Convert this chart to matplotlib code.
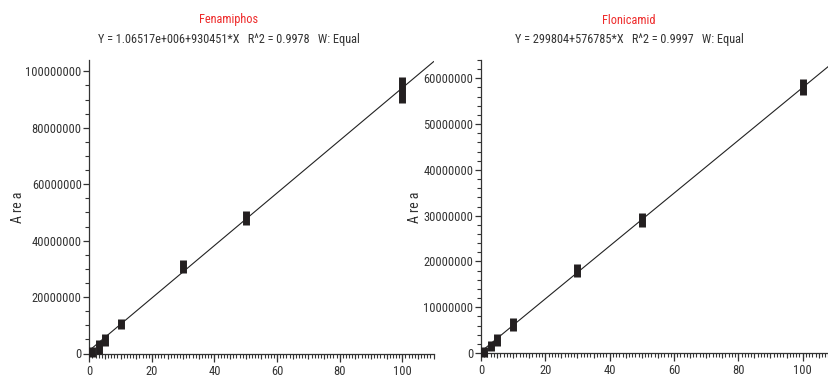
import matplotlib
matplotlib.use("Agg")
import matplotlib.pyplot as plt
import numpy as np
from matplotlib.ticker import MultipleLocator, FuncFormatter

plt.rcParams['font.family'] = ['Roboto Condensed', 'DejaVu Sans']

# ---- data ----
conc = [1, 3, 5, 10, 30, 50, 100]

fen_low = [-1.2e6, -0.1e6, 2.8e6, 8.7e6, 28.6e6, 45.7e6, 88.6e6]
fen_high = [2.3e6, 4.85e6, 7.0e6, 12.3e6, 33.3e6, 50.6e6, 98.0e6]
fen_fit = (1.06517e6, 930451)

flo_low = [-0.8e6, 0.5e6, 1.6e6, 4.9e6, 16.6e6, 27.5e6, 56.4e6]
flo_high = [1.4e6, 2.7e6, 4.2e6, 7.6e6, 19.5e6, 30.6e6, 59.9e6]
flo_fit = (299804, 576785)

names_c = ["Fenamiphos", "Flonicamid"]
eqs = ["Y = 1.06517e+006+930451*X   R^2 = 0.9978   W: Equal",
       "Y = 299804+576785*X   R^2 = 0.9997   W: Equal"]
ylabel = "A re a"

W, H = 829, 381
fig = plt.figure(figsize=(W / 100, H / 100), dpi=100)

TXT = '#333333'
MK = '#231f20'

def panel(px_left, px_right_110, px_top, px_zero, ylim_top, ymaj, ymin, low, high, fit):
    ax = fig.add_axes([px_left / W, (H - px_zero) / H, (px_right_110 - px_left) / W, (px_zero - px_top) / H])
    ax.set_xlim(0, 110)
    ax.set_ylim(0, ylim_top)
    for s in ['top', 'right']:
        ax.spines[s].set_visible(False)
    for s in ['left', 'bottom']:
        ax.spines[s].set_color(TXT)
        ax.spines[s].set_linewidth(0.9)
    ax.xaxis.set_major_locator(MultipleLocator(20))
    ax.xaxis.set_minor_locator(MultipleLocator(1))
    ax.yaxis.set_major_locator(MultipleLocator(ymaj))
    ax.yaxis.set_minor_locator(MultipleLocator(ymin))
    ax.yaxis.set_major_formatter(FuncFormatter(lambda v, p: '%d' % round(v)))
    ax.tick_params(axis='both', which='major', width=0.9, color=TXT,
                   labelsize=9, labelcolor=TXT)
    ax.tick_params(axis='y', which='major', length=4.5, pad=1)
    ax.tick_params(axis='x', which='major', length=5.5, pad=2.5)
    ax.tick_params(axis='both', which='minor', width=0.8, color=TXT)
    ax.tick_params(axis='x', which='minor', length=2.7)
    ax.tick_params(axis='y', which='minor', length=3)
    sec = ax.secondary_xaxis('bottom')
    sec.set_xticks(np.arange(5, 111, 5))
    sec.tick_params(length=3.8, width=0.8, color=TXT, labelbottom=False)
    sec.spines['bottom'].set_visible(False)
    xs = np.array([0, 110])
    ax.plot(xs, fit[0] + fit[1] * xs, color='#222222', lw=0.8, zorder=2)
    ax.vlines(conc, low, high, colors=MK, lw=5.0, capstyle='butt', zorder=3, clip_on=False)
    return ax

ax1 = panel(89.3, 433.6, 60, 353.5, 104e6, 20e6, 5e6, fen_low, fen_high, fen_fit)
ax2 = panel(481, 834.8, 60, 353, 64e6, 10e6, 2e6, flo_low, flo_high, flo_fit)

for cx, nm, eq, lx in [(229, names_c[0], eqs[0], 18), (629, names_c[1], eqs[1], 415)]:
    fig.text(cx / W, 1 - 20 / H, nm, color='#ee2a2a', fontsize=8.8, ha='center', va='center')
    fig.text(cx / W, 1 - 40 / H, eq, color=TXT, fontsize=8.8, ha='center', va='center')
    fig.text(lx / W, 1 - 207 / H, ylabel, color=TXT, fontsize=10, rotation=90, ha='center', va='center')

fig.savefig("out.png", dpi=100)
